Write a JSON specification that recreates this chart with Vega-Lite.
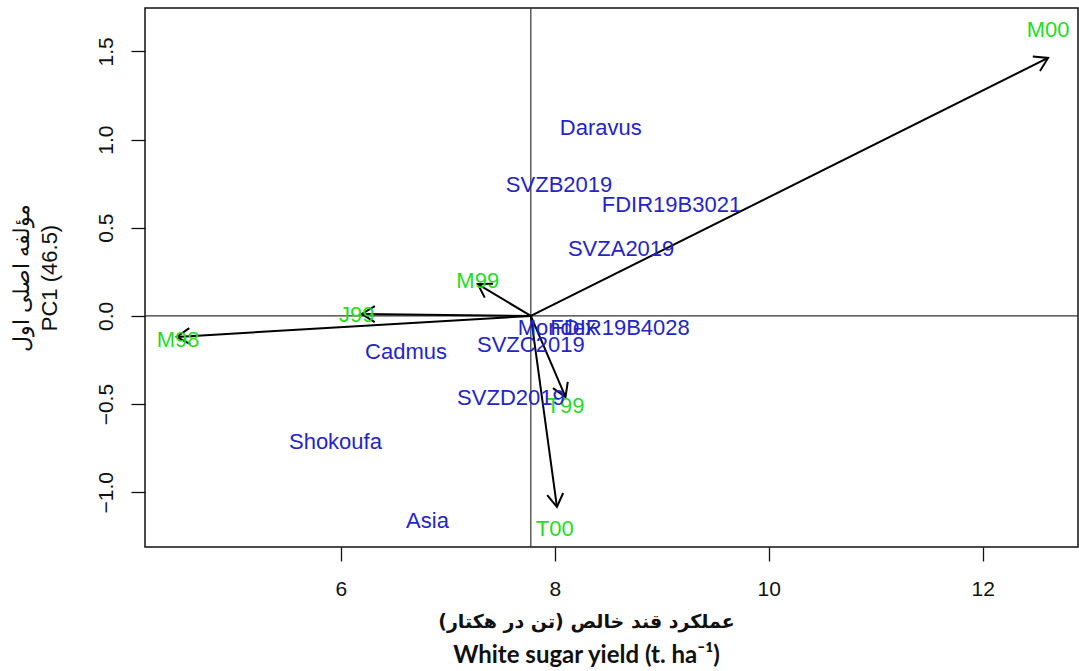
{
  "$schema": "https://vega.github.io/schema/vega-lite/v6.json",
  "width": 933,
  "height": 539,
  "autosize": {"type": "none"},
  "padding": {"left": 145, "top": 8, "right": 1, "bottom": 124},
  "background": "white",
  "config": {
    "view": {"stroke": "#111", "strokeWidth": 1.5},
    "axis": {
      "domain": false,
      "grid": false,
      "tickColor": "#111",
      "tickWidth": 1.3,
      "tickSize": 14,
      "labelFont": "Liberation Sans",
      "labelFontSize": 21,
      "labelColor": "#111",
      "titleColor": "#111"
    },
    "title": {"color": "#111"}
  },
  "title": {
    "text": "White sugar yield (t. ha⁻¹)",
    "orient": "bottom",
    "anchor": "middle",
    "font": "Lato",
    "fontSize": 24,
    "fontWeight": "bold",
    "dx": -25,
    "offset": 13
  },
  "datasets": {
    "origin": [{"x": 7.776, "y": 0}],
    "traits": [
      {"trait": "M00", "ox": 7.776, "oy": 0, "x": 12.61, "y": 1.463, "lx": 12.61, "ly": 1.62},
      {"trait": "M99", "ox": 7.776, "oy": 0, "x": 7.28, "y": 0.181, "lx": 7.28, "ly": 0.2},
      {"trait": "J99", "ox": 7.776, "oy": 0, "x": 6.196, "y": 0.011, "lx": 6.15, "ly": 0.005},
      {"trait": "M98", "ox": 7.776, "oy": 0, "x": 4.467, "y": -0.119, "lx": 4.48, "ly": -0.135},
      {"trait": "T99", "ox": 7.776, "oy": 0, "x": 8.1, "y": -0.459, "lx": 8.1, "ly": -0.51},
      {"trait": "T00", "ox": 7.776, "oy": 0, "x": 8.02, "y": -1.083, "lx": 8.0, "ly": -1.21}
    ],
    "genotypes": [
      {"genotype": "Daravus", "x": 8.43, "y": 1.066},
      {"genotype": "SVZB2019", "x": 8.04, "y": 0.743},
      {"genotype": "FDIR19B3021", "x": 9.09, "y": 0.629},
      {"genotype": "SVZA2019", "x": 8.62, "y": 0.38},
      {"genotype": "Mondex", "x": 8.02, "y": -0.068},
      {"genotype": "FDIR19B4028", "x": 8.61, "y": -0.068},
      {"genotype": "SVZC2019", "x": 7.776, "y": -0.164},
      {"genotype": "Cadmus", "x": 6.61, "y": -0.204},
      {"genotype": "SVZD2019", "x": 7.59, "y": -0.465},
      {"genotype": "Shokoufa", "x": 5.95, "y": -0.714},
      {"genotype": "Asia", "x": 6.81, "y": -1.162}
    ]
  },
  "layer": [
    {
      "data": {"name": "origin"},
      "mark": {"type": "rule", "color": "#333", "strokeWidth": 1.2},
      "encoding": {
        "x": {
          "field": "x",
          "type": "quantitative",
          "scale": {"domain": [4.17, 12.89], "nice": false, "zero": false},
          "axis": {
            "values": [6, 8, 10, 12],
            "format": "d",
            "labelPadding": 17,
            "title": "عملکرد قند خالص (تن در هکتار)‏",
            "titleFont": "DejaVu Sans",
            "titleFontSize": 19,
            "titleFontWeight": "bold",
            "titleX": 441,
            "titleAlign": "center",
            "titlePadding": 13
          }
        }
      }
    },
    {
      "data": {"name": "origin"},
      "mark": {"type": "rule", "color": "#333", "strokeWidth": 1.2},
      "encoding": {
        "y": {
          "field": "y",
          "type": "quantitative",
          "scale": {"domain": [-1.31, 1.746], "nice": false, "zero": false},
          "axis": {
            "values": [-1, -0.5, 0, 0.5, 1, 1.5],
            "format": ".1f",
            "labelAngle": 270,
            "labelAlign": "center",
            "labelBaseline": "bottom",
            "labelPadding": 15,
            "title": ["مؤلفه اصلی اول", "PC1 (46.5)"],
            "titleFont": "Liberation Sans",
            "titleFontSize": 22,
            "titleFontWeight": "normal",
            "titleLineHeight": 28,
            "titlePadding": 34
          }
        }
      }
    },
    {
      "data": {"name": "traits"},
      "mark": {"type": "rule", "color": "#000", "strokeWidth": 2},
      "encoding": {
        "x": {"field": "ox", "type": "quantitative"},
        "y": {"field": "oy", "type": "quantitative"},
        "x2": {"field": "x"},
        "y2": {"field": "y"}
      }
    },
    {
      "data": {"name": "traits"},
      "transform": [
        {"calculate": "atan2(-(datum.y - datum.oy) * 539 / 3.056, (datum.x - datum.ox) * 933 / 8.72) * 180 / PI", "as": "heading"}
      ],
      "mark": {
        "type": "point",
        "shape": "M-1,-0.62L0,0L-1,0.62",
        "filled": false,
        "stroke": "#000",
        "strokeWidth": 2,
        "size": 676,
        "opacity": 1
      },
      "encoding": {
        "x": {"field": "x", "type": "quantitative"},
        "y": {"field": "y", "type": "quantitative"},
        "angle": {"field": "heading", "type": "quantitative", "scale": null}
      }
    },
    {
      "data": {"name": "traits"},
      "mark": {"type": "text", "font": "Liberation Sans", "fontSize": 22, "color": "#22dd22", "align": "center", "baseline": "middle"},
      "encoding": {
        "x": {"field": "lx", "type": "quantitative"},
        "y": {"field": "ly", "type": "quantitative"},
        "text": {"field": "trait"}
      }
    },
    {
      "data": {"name": "genotypes"},
      "mark": {"type": "text", "font": "Liberation Sans", "fontSize": 22, "color": "#2424c8", "align": "center", "baseline": "middle"},
      "encoding": {
        "x": {"field": "x", "type": "quantitative"},
        "y": {"field": "y", "type": "quantitative"},
        "text": {"field": "genotype"}
      }
    }
  ]
}
